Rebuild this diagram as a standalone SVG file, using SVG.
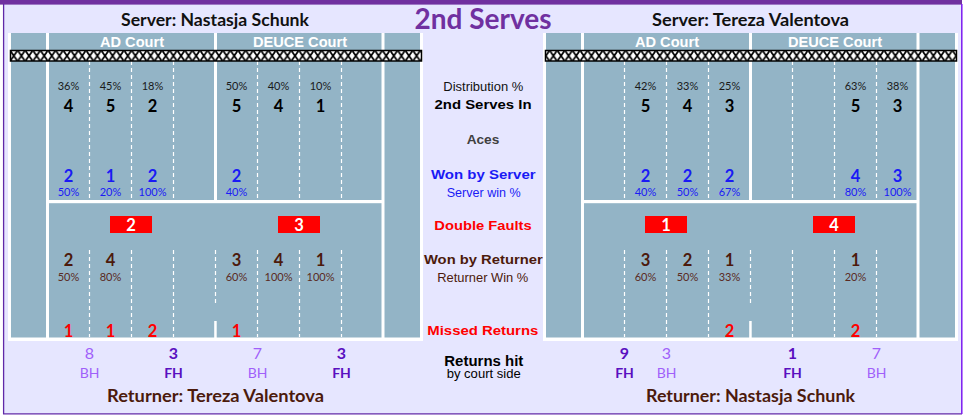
<svg xmlns="http://www.w3.org/2000/svg" width="966" height="417" viewBox="0 0 966 417">
<defs>
<pattern id="net" patternUnits="userSpaceOnUse" x="10" y="51.2" width="7.6" height="9.2">
<rect width="7.6" height="9.2" fill="#fff"/>
<path d="M0.6,0 L7,9.2 M7,0 L0.6,9.2" stroke="#000" stroke-width="1.7"/>
</pattern>
<style>
.cal{font-family:Lato,"Open Sans","Noto Sans",sans-serif}
.ari{font-family:"Liberation Sans",Arial,sans-serif}
.mid{text-anchor:middle}
.b{font-weight:700}
.title{font-size:16.5px;font-weight:700}
.court{font-size:14.6px;font-weight:700;fill:#fff}
.pct{font-size:11px}
.num{font-size:16.5px;font-weight:700}
.dash{stroke:#fff;stroke-width:1.2;stroke-dasharray:4 3;fill:none}
.gray{fill:#93B4C6}
.wht{fill:#fff}
.blue{fill:#1A1AF5}
.red{fill:#FF0000}
.brn{fill:#4C1A0C}
.brnp{fill:#5A2A22}
.bh{fill:#A060FA}
.fh{fill:#5A10C0}
</style>
</defs>

<!-- frame -->
<rect x="3.5" y="0" width="958" height="413.5" fill="#E6E6FF"/>
<rect x="0" y="0" width="962" height="4.6" fill="#7030A0"/>
<line x1="3.6" y1="4" x2="3.6" y2="414" stroke="#6028A8" stroke-width="1.3"/>
<line x1="3" y1="413.8" x2="962" y2="413.8" stroke="#6028A8" stroke-width="1.3"/>
<line x1="961.8" y1="4" x2="961.8" y2="414" stroke="#7B1CF0" stroke-width="1.5"/>

<text class="cal mid b" x="483" y="29" font-size="28" fill="#7030A0" textLength="137" lengthAdjust="spacingAndGlyphs">2nd Serves</text>

<!-- left court -->
<g id="court-left">
<rect class="wht" x="8" y="33" width="415" height="308"/>
<rect class="gray" x="11" y="33" width="409" height="304.5"/>
<rect class="wht" x="46" y="33" width="3" height="305"/>
<rect class="wht" x="381.5" y="33" width="3" height="305"/>
<rect class="wht" x="214" y="33" width="3" height="170"/>
<rect class="wht" x="46" y="200" width="338" height="3.2"/>
<rect class="wht" x="214.2" y="321" width="2.5" height="17"/>
<path class="dash" d="M89.5,61V200 M131.5,61V200 M173.5,61V200 M257.5,61V200 M299.5,61V200 M341.5,61V200 M89.5,250V337 M131.5,250V337 M173.5,250V337 M257.5,250V337 M299.5,250V337 M341.5,250V337 M215.5,250V304"/>
<rect x="10.5" y="50.5" width="411" height="10.5" fill="url(#net)" stroke="#000" stroke-width="1.5"/>
<text class="ari mid court" x="132" y="47">AD Court</text>
<text class="ari mid court" x="300" y="47">DEUCE Court</text>
</g>

<!-- right court -->
<g id="court-right">
<rect class="wht" x="543" y="33" width="415" height="308"/>
<rect class="gray" x="546" y="33" width="409" height="304.5"/>
<rect class="wht" x="581" y="33" width="3" height="305"/>
<rect class="wht" x="916.5" y="33" width="3" height="305"/>
<rect class="wht" x="749" y="33" width="3" height="170"/>
<rect class="wht" x="581" y="200" width="338" height="3.2"/>
<rect class="wht" x="749.2" y="321" width="2.5" height="17"/>
<path class="dash" d="M624.5,61V200 M666.5,61V200 M708.5,61V200 M792.5,61V200 M834.5,61V200 M876.5,61V200 M624.5,250V337 M666.5,250V337 M708.5,250V337 M792.5,250V337 M834.5,250V337 M876.5,250V337 M750.5,250V304"/>
<rect x="545.5" y="50.5" width="411" height="10.5" fill="url(#net)" stroke="#000" stroke-width="1.5"/>
<text class="ari mid court" x="667" y="47">AD Court</text>
<text class="ari mid court" x="835" y="47">DEUCE Court</text>
</g>

<!-- titles -->
<g id="titles">
<text class="cal mid title" x="215" y="26" fill="#111" textLength="188" lengthAdjust="spacingAndGlyphs">Server: Nastasja Schunk</text>
<text class="cal mid title" x="750.5" y="26" fill="#111" textLength="197" lengthAdjust="spacingAndGlyphs">Server: Tereza Valentova</text>
<text class="cal mid title brn" x="215.5" y="402" textLength="217" lengthAdjust="spacingAndGlyphs">Returner: Tereza Valentova</text>
<text class="cal mid title brn" x="750.5" y="402" textLength="209" lengthAdjust="spacingAndGlyphs">Returner: Nastasja Schunk</text>
</g>

<!-- center legend -->
<g id="legend" class="ari mid">
<text x="483.3" y="90.5" font-size="13" fill="#111" textLength="80" lengthAdjust="spacingAndGlyphs">Distribution %</text>
<text x="483" y="109.3" font-size="13.5" font-weight="700" fill="#000" textLength="97" lengthAdjust="spacingAndGlyphs">2nd Serves In</text>
<text x="483" y="144.3" font-size="13.5" font-weight="700" fill="#404040" textLength="32.7" lengthAdjust="spacingAndGlyphs">Aces</text>
<text x="483.3" y="179" font-size="13.5" font-weight="700" class="blue" textLength="104.7" lengthAdjust="spacingAndGlyphs">Won by Server</text>
<text x="483.7" y="196.7" font-size="13" class="blue" textLength="74" lengthAdjust="spacingAndGlyphs">Server win %</text>
<text x="483" y="230" font-size="13.5" font-weight="700" class="red" textLength="97.3" lengthAdjust="spacingAndGlyphs">Double Faults</text>
<text x="483.3" y="264" font-size="13.5" font-weight="700" class="brn" textLength="118.7" lengthAdjust="spacingAndGlyphs">Won by Returner</text>
<text x="482.8" y="281.7" font-size="13" class="brn" textLength="91" lengthAdjust="spacingAndGlyphs">Returner Win %</text>
<text x="482.8" y="335" font-size="13.5" font-weight="700" class="red" textLength="111" lengthAdjust="spacingAndGlyphs">Missed Returns</text>
<text x="483.8" y="365.7" font-size="14.5" font-weight="700" fill="#000" textLength="79" lengthAdjust="spacingAndGlyphs">Returns hit</text>
<text x="483.7" y="378.3" font-size="12.5" fill="#000" textLength="74" lengthAdjust="spacingAndGlyphs">by court side</text>
</g>

<!-- left data -->
<g id="left-data" class="cal mid">
<g class="pct" fill="#1a1a1a">
<text x="68.5" y="90">36%</text><text x="110.5" y="90">45%</text><text x="152.5" y="90">18%</text>
<text x="236.5" y="90">50%</text><text x="278.5" y="90">40%</text><text x="320.5" y="90">10%</text>
</g>
<g class="num" fill="#000">
<text x="68.5" y="111.5">4</text><text x="110.5" y="111.5">5</text><text x="152.5" y="111.5">2</text>
<text x="236.5" y="111.5">5</text><text x="278.5" y="111.5">4</text><text x="320.5" y="111.5">1</text>
</g>
<g class="num blue">
<text x="68.5" y="182">2</text><text x="110.5" y="182">1</text><text x="152.5" y="182">2</text><text x="236.5" y="182">2</text>
</g>
<g class="pct blue">
<text x="68.5" y="196">50%</text><text x="110.5" y="196">20%</text><text x="152.5" y="196">100%</text><text x="236.5" y="196">40%</text>
</g>
<rect class="red" x="110" y="216" width="42" height="17"/>
<rect class="red" x="278" y="216" width="42" height="17"/>
<g class="num" fill="#fff">
<text x="131" y="231">2</text><text x="299" y="231">3</text>
</g>
<g class="num brn">
<text x="68.5" y="265.5">2</text><text x="110.5" y="265.5">4</text>
<text x="236.5" y="265.5">3</text><text x="278.5" y="265.5">4</text><text x="320.5" y="265.5">1</text>
</g>
<g class="pct brnp">
<text x="68.5" y="281">50%</text><text x="110.5" y="281">80%</text>
<text x="236.5" y="281">60%</text><text x="278.5" y="281">100%</text><text x="320.5" y="281">100%</text>
</g>
<g class="num red" font-size="17.5">
<text x="68.5" y="336.8">1</text><text x="110.5" y="336.8">1</text><text x="152.5" y="336.8">2</text><text x="236.5" y="336.8">1</text>
</g>
<g font-size="16">
<text class="bh" x="89.5" y="359.3">8</text><text class="fh b" x="173.5" y="359.3">3</text>
<text class="bh" x="257.5" y="359.3">7</text><text class="fh b" x="341.5" y="359.3">3</text>
</g>
<g font-size="14">
<text class="bh" x="89.5" y="378.3">BH</text><text class="fh b" x="173.5" y="378.3">FH</text>
<text class="bh" x="257.5" y="378.3">BH</text><text class="fh b" x="341.5" y="378.3">FH</text>
</g>
</g>

<!-- right data -->
<g id="right-data" class="cal mid">
<g class="pct" fill="#1a1a1a">
<text x="645.5" y="90">42%</text><text x="687.5" y="90">33%</text><text x="729.5" y="90">25%</text>
<text x="855.5" y="90">63%</text><text x="897.5" y="90">38%</text>
</g>
<g class="num" fill="#000">
<text x="645.5" y="111.5">5</text><text x="687.5" y="111.5">4</text><text x="729.5" y="111.5">3</text>
<text x="855.5" y="111.5">5</text><text x="897.5" y="111.5">3</text>
</g>
<g class="num blue">
<text x="645.5" y="182">2</text><text x="687.5" y="182">2</text><text x="729.5" y="182">2</text>
<text x="855.5" y="182">4</text><text x="897.5" y="182">3</text>
</g>
<g class="pct blue">
<text x="645.5" y="196">40%</text><text x="687.5" y="196">50%</text><text x="729.5" y="196">67%</text>
<text x="855.5" y="196">80%</text><text x="897.5" y="196">100%</text>
</g>
<rect class="red" x="645" y="216" width="42" height="17"/>
<rect class="red" x="813" y="216" width="42" height="17"/>
<g class="num" fill="#fff">
<text x="666" y="231">1</text><text x="834" y="231">4</text>
</g>
<g class="num brn">
<text x="645.5" y="265.5">3</text><text x="687.5" y="265.5">2</text><text x="729.5" y="265.5">1</text>
<text x="855.5" y="265.5">1</text>
</g>
<g class="pct brnp">
<text x="645.5" y="281">60%</text><text x="687.5" y="281">50%</text><text x="729.5" y="281">33%</text>
<text x="855.5" y="281">20%</text>
</g>
<g class="num red" font-size="17.5">
<text x="729.5" y="336.8">2</text><text x="855.5" y="336.8">2</text>
</g>
<g font-size="16">
<text class="fh b" x="624.5" y="359.3">9</text><text class="bh" x="666.5" y="359.3">3</text>
<text class="fh b" x="792.5" y="359.3">1</text><text class="bh" x="876.5" y="359.3">7</text>
</g>
<g font-size="14">
<text class="fh b" x="624.5" y="378.3">FH</text><text class="bh" x="666.5" y="378.3">BH</text>
<text class="fh b" x="792.5" y="378.3">FH</text><text class="bh" x="876.5" y="378.3">BH</text>
</g>
</g>
</svg>
